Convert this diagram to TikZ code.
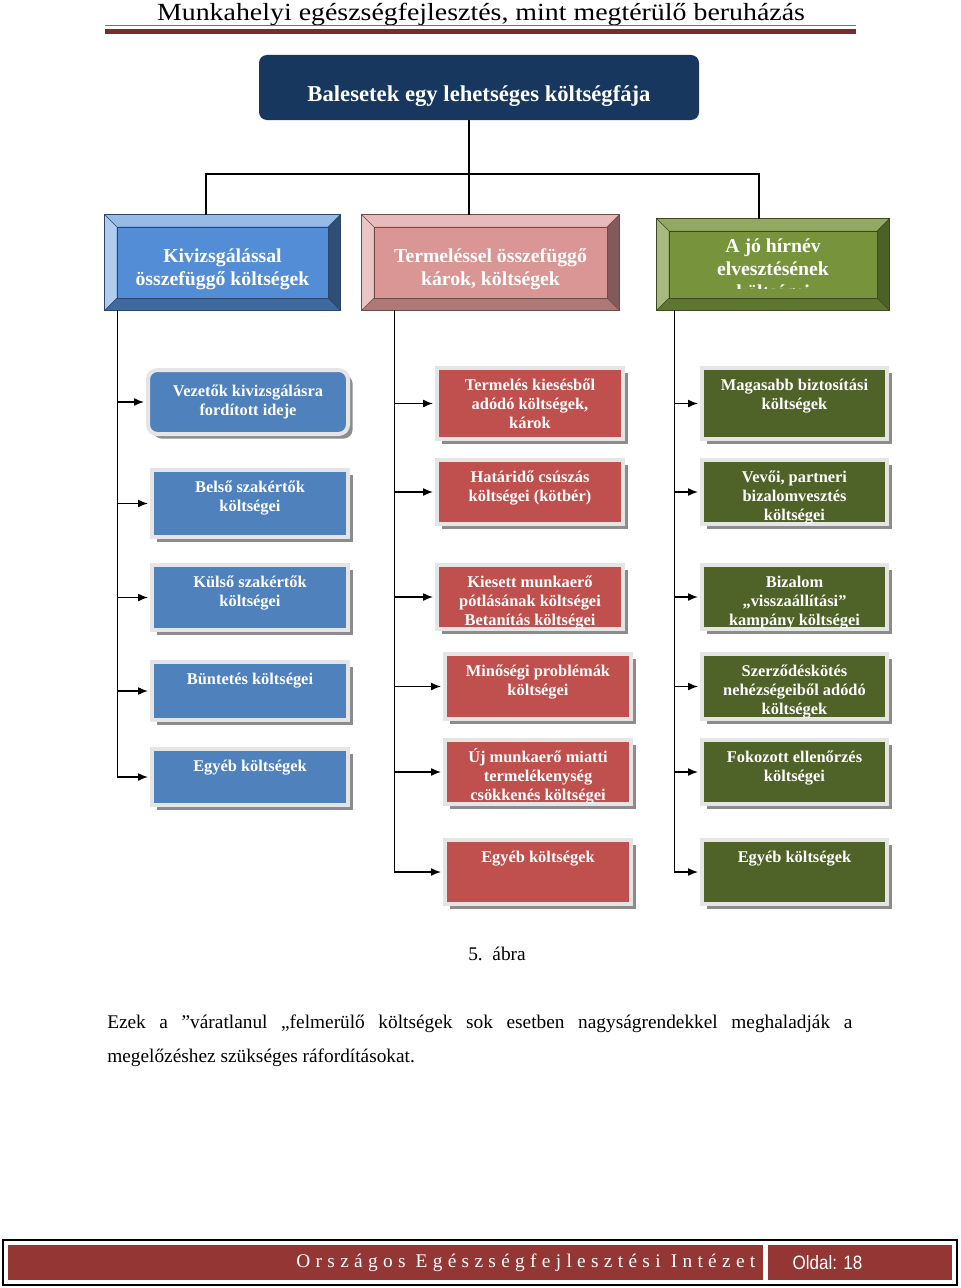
\documentclass[tikz,border=0pt]{standalone}
\usepackage{fontspec}
\setmainfont{Liberation Serif}
\newfontfamily\footsans{Liberation Sans}
\usepackage{graphicx}
\usetikzlibrary{calc,arrows.meta,shadows}

\definecolor{rootblue}{HTML}{17375E}
\definecolor{headbar}{HTML}{7B2B2B}
\definecolor{headthin}{HTML}{A06060}
\definecolor{footred}{HTML}{943634}
\definecolor{subblue}{HTML}{4F81BD}
\definecolor{subred}{HTML}{C0504D}
\definecolor{subgreen}{HTML}{4F6228}
\definecolor{catblue}{HTML}{538DD5}
\definecolor{catred}{HTML}{D99694}
\definecolor{catgreen}{HTML}{77933C}

% lines of a box label, first baseline on top
\newcommand\lines[2]{\parbox[t]{#1}{\centering #2}}

% bevel around a category box: node, top, left, bottom, right, edge colour
\newcommand\bevel[6]{%
  \fill[#2] (#1.north west) -- (#1.north east) -- ($(#1.north east)+(-12,12)$) -- ($(#1.north west)+(12,12)$) -- cycle;
  \fill[#3] (#1.north west) -- ($(#1.north west)+(12,12)$) -- ($(#1.south west)+(12,-12)$) -- (#1.south west) -- cycle;
  \fill[#4] (#1.south west) -- ($(#1.south west)+(12,-12)$) -- ($(#1.south east)+(-12,-12)$) -- (#1.south east) -- cycle;
  \fill[#5] (#1.south east) -- ($(#1.south east)+(-12,-12)$) -- ($(#1.north east)+(-12,12)$) -- (#1.north east) -- cycle;
  \draw[#6, line width=0.5pt] (#1.north west) rectangle (#1.south east);
  \draw[#6, line width=0.3pt] ($(#1.north west)+(12,12)$) rectangle ($(#1.south east)+(-12,-12)$);
  \draw[#6, line width=0.3pt] (#1.north west) -- ++(12,12) (#1.north east) -- ++(-12,12)
    (#1.south west) -- ++(12,-12) (#1.south east) -- ++(-12,-12);
}

\begin{document}
\begin{tikzpicture}[x=0.75pt,y=-0.75pt]
  \tikzset{
    root/.style={draw=none, fill=rootblue, rounded corners=6pt, inner sep=0pt, minimum width=330pt, text height=34.5pt, text depth=14.25pt, text=white, font=\bfseries\fontsize{17}{20}\selectfont},
    cat/.style={rectangle, inner sep=0pt, text height=35.25pt, text depth=36pt, text=white, font=\bfseries\fontsize{14.8}{17.25}\selectfont},
    sub/.style={rectangle, inner sep=0pt, anchor=north, text=white, text height=16.5pt, text depth=31.5pt,
      font=\bfseries\fontsize{12.3}{14.25}\selectfont, draw=white!90!black, line width=3pt,
      drop shadow={shadow xshift=3.5pt, shadow yshift=-3.5pt, fill=black!45, opacity=1}},
    bluesub/.style={sub, fill=subblue, minimum width=147pt},
    redsub/.style={sub, fill=subred, minimum width=139.5pt},
    greensub/.style={sub, fill=subgreen, minimum width=138.75pt},
    line/.style={draw, -{Latex[length=7.5pt,width=6pt]}, line width=1.1pt, shorten >=1.5pt},
    conn/.style={draw, line width=1.1pt},
  }
  \useasboundingbox (0,0) rectangle (960,1288);

  % page header
  \node[anchor=base, inner sep=0pt, font=\fontsize{18.5}{22}\selectfont] (head) at (481,21) {\scalebox{1.13}[1]{Munkahelyi egészségfejlesztés, mint megtérülő beruházás}};
  \draw[headthin, line width=0.8pt] (105,25.5) -- (856,25.5);
  \fill[headbar] (105,29) rectangle (856,34);

  % the tree
  \node[root] (root) at (479,87.5) {Balesetek egy lehetséges költségfája};

  \node[cat, fill=catblue, minimum width=176.25pt] (cat1) at (222.5,262.5) {\lines{170pt}{Kivizsgálással\\összefüggő költségek}};
  \bevel{cat1}{catblue!60!white}{catblue!45!white}{catblue!75!black}{catblue!55!black}{catblue!50!black}
  \node[cat, fill=catred, minimum width=192.75pt] (cat2) at (490.5,262.5) {\lines{185pt}{Termeléssel összefüggő\\károk, költségek}};
  \bevel{cat2}{catred!65!white}{catred!55!white}{catred!80!black}{catred!60!black}{catred!50!black}
  \node[cat, fill=catgreen, minimum width=174pt, text height=24.75pt, text depth=43.5pt] (cat3) at (773,264.5) {\lines{165pt}{A jó hírnév\\elvesztésének\\költségei}};
  \fill[catgreen] (669,289) rectangle (877,298);
  \bevel{cat3}{catgreen!80!white}{catgreen!65!white}{catgreen!80!black}{catgreen!65!black}{catgreen!50!black}

  \coordinate (split) at (469,174);
  \path[conn] (split |- root.south) -- (split);
  \path[conn] ([xshift=-12.375pt]cat1.north) |- (split) -| ([xshift=-10.5pt]cat3.north);
  \path[conn] (split) -- (split |- cat2.north);

  % kivizsgalas
  \node[bluesub, rounded corners=7pt, minimum width=150pt, text height=19.5pt, text depth=28.5pt] (b1) at (248,368) {\lines{140pt}{Vezetők kivizsgálásra\\fordított ideje}};
  \node[bluesub, text depth=33.75pt] (b2) at (250,468) {\lines{136pt}{Belső szakértők\\költségei}};
  \node[bluesub, text depth=32.25pt] (b3) at (250,563) {\lines{136pt}{Külső szakértők\\költségei}};
  \node[bluesub, text depth=27pt] (b4) at (250,660) {\lines{136pt}{Büntetés költségei}};
  \node[bluesub, text depth=25.5pt] (b5) at (250,747) {\lines{136pt}{Egyéb költségek}};

  % termeles
  \node[redsub, text depth=36.75pt] (r1) at (530,366) {\lines{136pt}{Termelés kiesésből\\adódó költségek,\\károk}};
  \node[redsub] (r2) at (530,458) {\lines{136pt}{Határidő csúszás\\költségei (kötbér)}};
  \node[redsub] (r3) at (530,563) {\lines{136pt}{Kiesett munkaerő\\pótlásának költségei\\Betanítás költségei}};
  \node[redsub, text depth=32.25pt] (r4) at (538,652) {\lines{136pt}{Minőségi problémák\\költségei}};
  \node[redsub] (r5) at (538,738) {\lines{136pt}{Új munkaerő miatti\\termelékenység\\csökkenés költségei}};
  \node[redsub] (r6) at (538,838) {\lines{136pt}{Egyéb költségek}};

  % hirnev
  \node[greensub, text depth=36.75pt] (g1) at (794.5,366) {\lines{136pt}{Magasabb biztosítási\\költségek}};
  \node[greensub] (g2) at (794.5,458) {\lines{136pt}{Vevői, partneri\\bizalomvesztés\\költségei}};
  \node[greensub] (g3) at (794.5,563) {\lines{136pt}{Bizalom\\„visszaállítási”\\kampány költségei}};
  \node[greensub, text depth=32.25pt] (g4) at (794.5,652) {\lines{136pt}{Szerződéskötés\\nehézségeiből adódó\\költségek}};
  \node[greensub] (g5) at (794.5,738) {\lines{136pt}{Fokozott ellenőrzés\\költségei}};
  \node[greensub] (g6) at (794.5,838) {\lines{136pt}{Egyéb költségek}};

  \foreach \n in {b1,b2,b3,b4,b5}
    \path[line] ([xshift=9.75pt]cat1.south west) |- (\n.west);
  \foreach \n in {r1,r2,r3,r4,r5,r6}
    \path[line] ([xshift=24.75pt]cat2.south west) |- (\n.west);
  \foreach \n in {g1,g2,g3,g4,g5,g6}
    \path[line] ([xshift=13.5pt]cat3.south west) |- (\n.west);

  % caption and text
  \node[font=\fontsize{14.5}{17}\selectfont] (caption) at (497,954) {5.\ \ ábra};
  \node[anchor=base west, inner sep=0pt, text width=558.75pt, align=justify, font=\fontsize{14.5}{25.5}\selectfont] (para) at (107,1028)
    {Ezek a ”váratlanul „felmerülő költségek sok esetben nagyságrendekkel meghaladják a\linebreak megelőzéshez szükséges ráfordításokat.};

  % page footer
  \draw[line width=1.5pt] (3,1240) rectangle (957,1285);
  \fill[footred] (8,1245) rectangle (763,1280);
  \fill[footred] (768,1245) rectangle (952,1280);
  \node[anchor=east, text=white, font=\fontsize{14.5}{16}\selectfont] (inst) at (760,1263) {\addfontfeature{LetterSpace=27.5}Országos Egészségfejlesztési Intézet};
  \node[anchor=west, text=white, font=\footsans\fontsize{14.5}{16}\selectfont] (page) at (788,1263) {\scalebox{0.88}[1]{Oldal: 18}};
\end{tikzpicture}
\end{document}
